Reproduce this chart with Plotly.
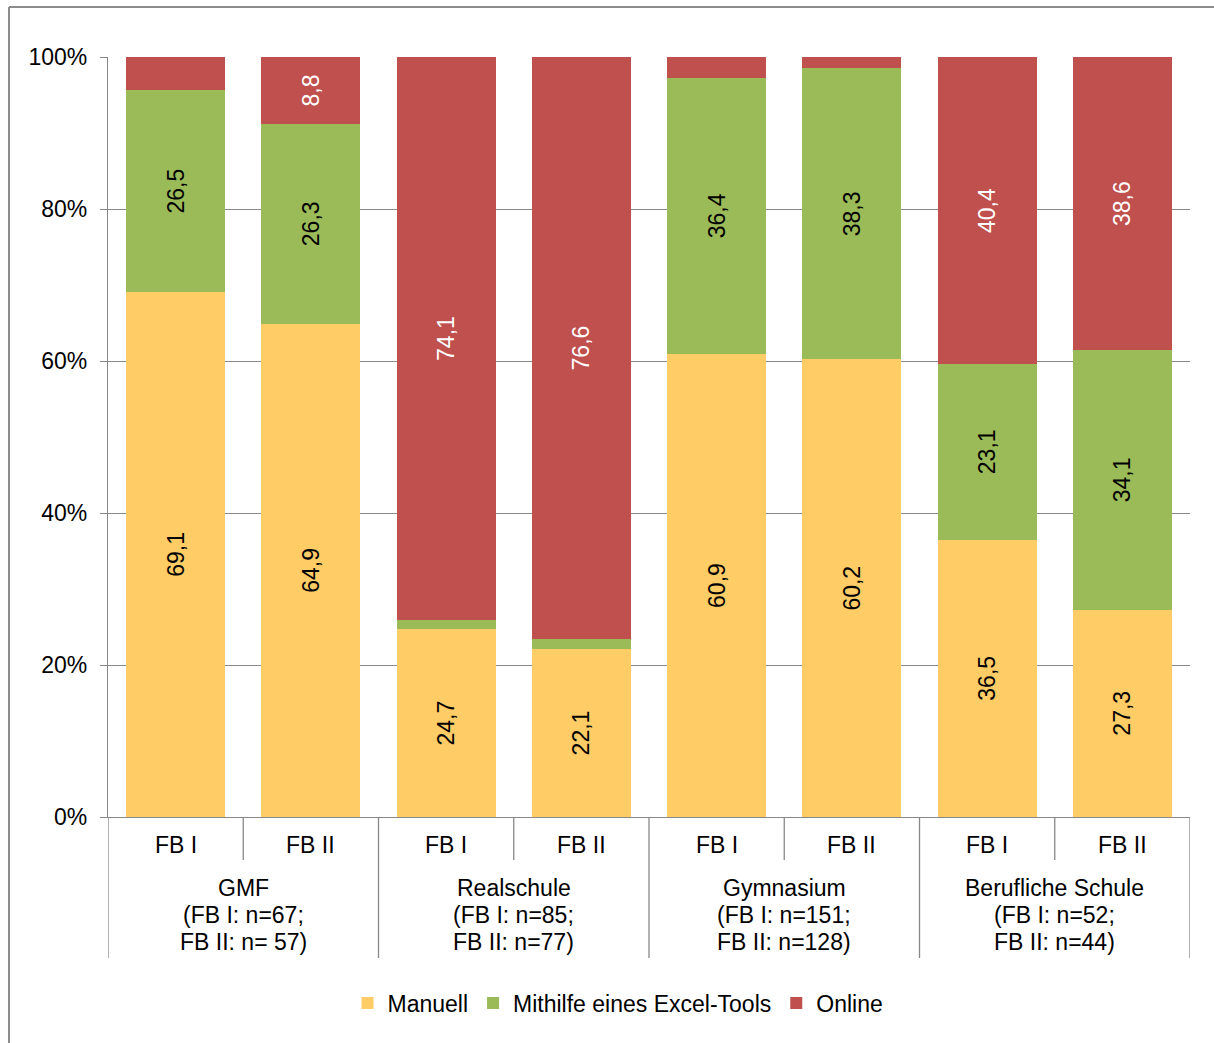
import plotly.graph_objects as go

# Survey data: share of each evaluation method per school type and questionnaire
schools = ["GMF", "Realschule", "Gymnasium", "Berufliche Schule"]
school_samples = [
    ["(FB I: n=67;", "FB II: n= 57)"],
    ["(FB I: n=85;", "FB II: n=77)"],
    ["(FB I: n=151;", "FB II: n=128)"],
    ["(FB I: n=52;", "FB II: n=44)"],
]
forms = ["FB I", "FB II"]

manuell = [69.1, 64.9, 24.7, 22.1, 60.9, 60.2, 36.5, 27.3]
excel = [26.5, 26.3, 1.2, 1.3, 36.4, 38.3, 23.1, 34.1]
online = [4.4, 8.8, 74.1, 76.6, 2.7, 1.5, 40.4, 38.6]

# segments too thin to carry a readable label stay unlabeled
min_label = 5.0

series = [
    ("Manuell", manuell, "#FFCC66", "black"),
    ("Mithilfe eines Excel-Tools", excel, "#9BBB59", "black"),
    ("Online", online, "#C0504D", "white"),
]

FONT = "Liberation Sans, Arial, sans-serif"
FS = 23
GRID = "#888888"

x_pos = list(range(len(manuell)))

fig = go.Figure()
for name, vals, color, tcolor in series:
    labels = [f"{v:.1f}".replace(".", ",") if v >= min_label else "" for v in vals]
    fig.add_trace(go.Bar(
        x=x_pos, y=vals, name=name,
        marker=dict(color=color, line=dict(width=0)),
        text=labels, textposition="inside", insidetextanchor="middle",
        textangle=-90, textfont=dict(size=FS, color=tcolor, family=FONT),
        hoverinfo="skip",
    ))

# plot geometry in pixels
W, H = 1214, 1043
ml, mr, mt, mb = 108, 24, 57, 226
ph = H - mt - mb
pw = W - ml - mr

def py(pix_y):
    """pixel row -> paper y"""
    return (H - mb - pix_y) / ph

def px(pix_x):
    return (pix_x - ml) / pw

shapes = []
annotations = []

# category axis: inner dividers between FB I / FB II, outer dividers between school groups
n_groups = len(schools)
for g in range(n_groups + 1):
    xb = 2 * g - 0.5
    shapes.append(dict(type="line", xref="x", yref="paper", x0=xb, x1=xb,
                       y0=0, y1=py(958), line=dict(color=GRID, width=1.3)))
for g in range(n_groups):
    xb = 2 * g + 0.5
    shapes.append(dict(type="line", xref="x", yref="paper", x0=xb, x1=xb,
                       y0=0, y1=py(860), line=dict(color=GRID, width=1.3)))

def label(x, ypix, text):
    annotations.append(dict(x=x, y=py(ypix), xref="x", yref="paper", text=text,
                            showarrow=False, yanchor="middle",
                            font=dict(size=FS, color="black", family=FONT)))

for i in x_pos:
    label(i, 845, forms[i % 2])
for g, name in enumerate(schools):
    lines = [name] + school_samples[g]
    for k, line in enumerate(lines):
        label(2 * g + 0.5, 888 + 27 * k, line)

# outer frame (left and top edges)
shapes.append(dict(type="line", xref="paper", yref="paper",
                   x0=px(9), x1=px(9), y0=py(7), y1=py(H + 5),
                   line=dict(color="#8C8C8C", width=2)))
shapes.append(dict(type="line", xref="paper", yref="paper",
                   x0=px(9), x1=px(W + 5), y0=py(7), y1=py(7),
                   line=dict(color="#8C8C8C", width=2)))

fig.update_layout(
    width=W, height=H,
    margin=dict(l=ml, r=mr, t=mt, b=mb, autoexpand=False),
    barmode="stack",
    bargap=0.268,
    plot_bgcolor="white", paper_bgcolor="white",
    font=dict(family=FONT, size=FS, color="black"),
    uniformtext=dict(minsize=FS, mode="show"),
    shapes=shapes,
    annotations=annotations,
    showlegend=True,
    legend=dict(orientation="h", x=px(618), xanchor="center", y=py(1003), yanchor="middle",
                font=dict(size=FS, family=FONT, color="black"), traceorder="normal",
                itemwidth=30, bgcolor="rgba(0,0,0,0)"),
    xaxis=dict(range=[-0.5, 7.5], showticklabels=False, showgrid=False, zeroline=False,
               showline=True, linecolor=GRID, linewidth=1.3, ticks="", fixedrange=True),
    yaxis=dict(range=[0, 100], dtick=20, ticksuffix="%", showgrid=True, gridcolor=GRID,
               gridwidth=1.3, zeroline=False, showline=True, linecolor=GRID, linewidth=1.3,
               ticks="outside", ticklen=7, tickcolor=GRID, tickwidth=1.3,
               ticklabelstandoff=8,
               tickfont=dict(size=FS, family=FONT, color="black"), fixedrange=True),
)

fig.write_html("out.html")
